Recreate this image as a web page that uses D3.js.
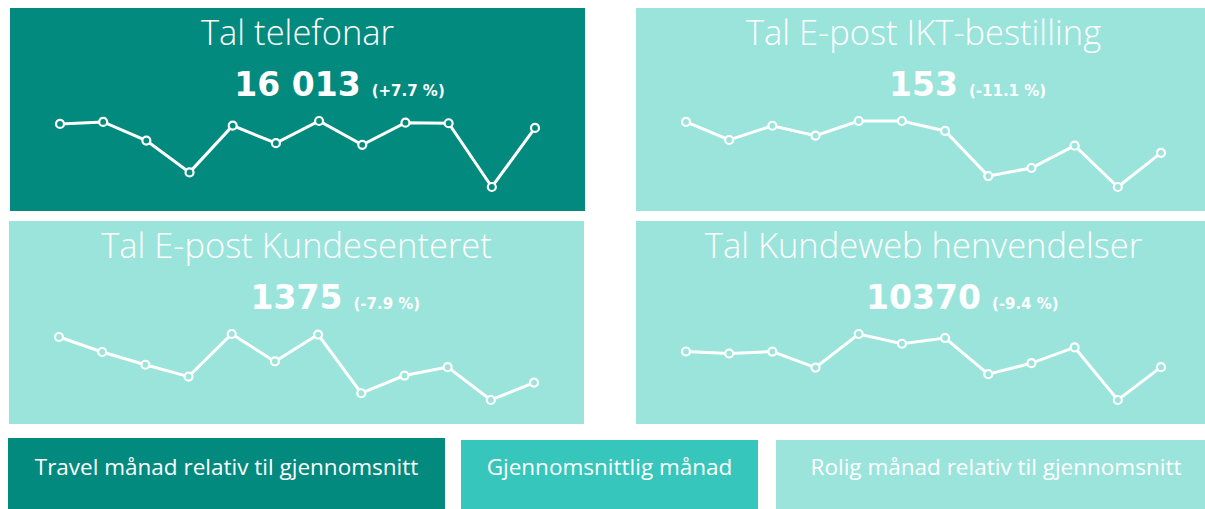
<!DOCTYPE html>
<html>
<head>
<meta charset="utf-8">
<script src="https://cdn.jsdelivr.net/npm/d3@7"></script>
<style>
  body { margin: 0; background: #fff; }
  text { font-family: "Open Sans", "Noto Sans", sans-serif; fill: #fff; }
</style>
</head>
<body>
<svg class="target" width="1205" height="509"></svg>
<script>
// twelve months per panel, values estimated from the sparklines
const titles = ["Tal telefonar", "Tal E-post IKT-bestilling", "Tal E-post Kundesenteret", "Tal Kundeweb henvendelser"];
const totals = ["16 013", "153", "1375", "10370"];
const changes = ["(+7.7 %)", "(-11.1 %)", "(-7.9 %)", "(-9.4 %)"];
const levels = ["travel", "rolig", "rolig", "rolig"];

const telefonar = [16470, 16700, 14560, 10900, 16280, 14260, 16810, 14070, 16620, 16550, 9220, 16013];
const iktBestilling = [218, 180, 210, 189, 220, 220, 199, 104, 121, 168, 81, 153];
const kundesenteret = [1679, 1579, 1494, 1415, 1699, 1516, 1695, 1304, 1422, 1478, 1259, 1375];
const kundeweb = [12140, 11915, 12130, 10325, 14119, 13017, 13664, 9575, 10824, 12597, 6655, 10370];
const series = [telefonar, iktBestilling, kundesenteret, kundeweb];

const legendLabels = ["Travel månad relativ til gjennomsnitt", "Gjennomsnittlig månad", "Rolig månad relativ til gjennomsnitt"];
const legendKeys = ["travel", "snitt", "rolig"];

const colour = d3.scaleOrdinal()
  .domain(["travel", "snitt", "rolig"])
  .range(["#038a7e", "#37c6bb", "#9be4dc"]);

const svg = d3.select(".target");

const boxW = 575, boxH = 203;
const boxX = [10, 636, 9, 636];
const boxY = [8, 8, 221, 221];

series.forEach((values, i) => {
  const g = svg.append("g").attr("transform", `translate(${boxX[i]}, ${boxY[i]})`);
  const fill = colour(levels[i]);

  g.append("rect").attr("width", boxW).attr("height", boxH).attr("fill", fill);

  g.append("text")
    .attr("x", boxW / 2)
    .attr("y", 37)
    .attr("text-anchor", "middle")
    .style("font-size", "34.5px")
    .style("font-weight", 300)
    .text(titles[i]);

  const num = g.append("text")
    .attr("x", boxW / 2)
    .attr("y", 88)
    .attr("text-anchor", "middle")
    .style("font-family", "'DejaVu Sans', sans-serif")
    .style("font-size", "33px")
    .style("font-weight", "bold")
    .text(totals[i]);
  const nw = num.node().getComputedTextLength();

  g.append("text")
    .attr("x", boxW / 2 + nw / 2 + 11)
    .attr("y", 88)
    .style("font-family", "'DejaVu Sans', sans-serif")
    .style("font-size", "15px")
    .style("font-weight", "bold")
    .text(changes[i]);

  const x = d3.scalePoint().domain(d3.range(values.length)).range([50, boxW - 50]);
  const y = d3.scaleLinear().domain(d3.extent(values)).range([179, 113]);

  const line = d3.line().x((d, j) => x(j)).y(d => y(d));

  g.append("path")
    .datum(values)
    .attr("d", line)
    .attr("fill", "none")
    .attr("stroke", "#fff")
    .attr("stroke-width", 3);

  g.selectAll("circle")
    .data(values)
    .enter()
    .append("circle")
    .attr("cx", (d, j) => x(j))
    .attr("cy", d => y(d))
    .attr("r", 4)
    .attr("fill", fill)
    .attr("stroke", "#fff")
    .attr("stroke-width", 2.2);
});

// legend
const legendX = [8, 461, 776];
const legendW = [437, 297, 440];
legendLabels.forEach((label, i) => {
  const g = svg.append("g").attr("transform", `translate(${legendX[i]}, ${i === 0 ? 438 : 440})`);
  g.append("rect").attr("width", legendW[i]).attr("height", 80).attr("fill", colour(legendKeys[i]));
  g.append("text")
    .attr("x", legendW[i] / 2)
    .attr("y", i === 0 ? 37 : 35)
    .attr("text-anchor", "middle")
    .style("font-size", "22.5px")
    .text(label);
});
</script>
</body>
</html>
